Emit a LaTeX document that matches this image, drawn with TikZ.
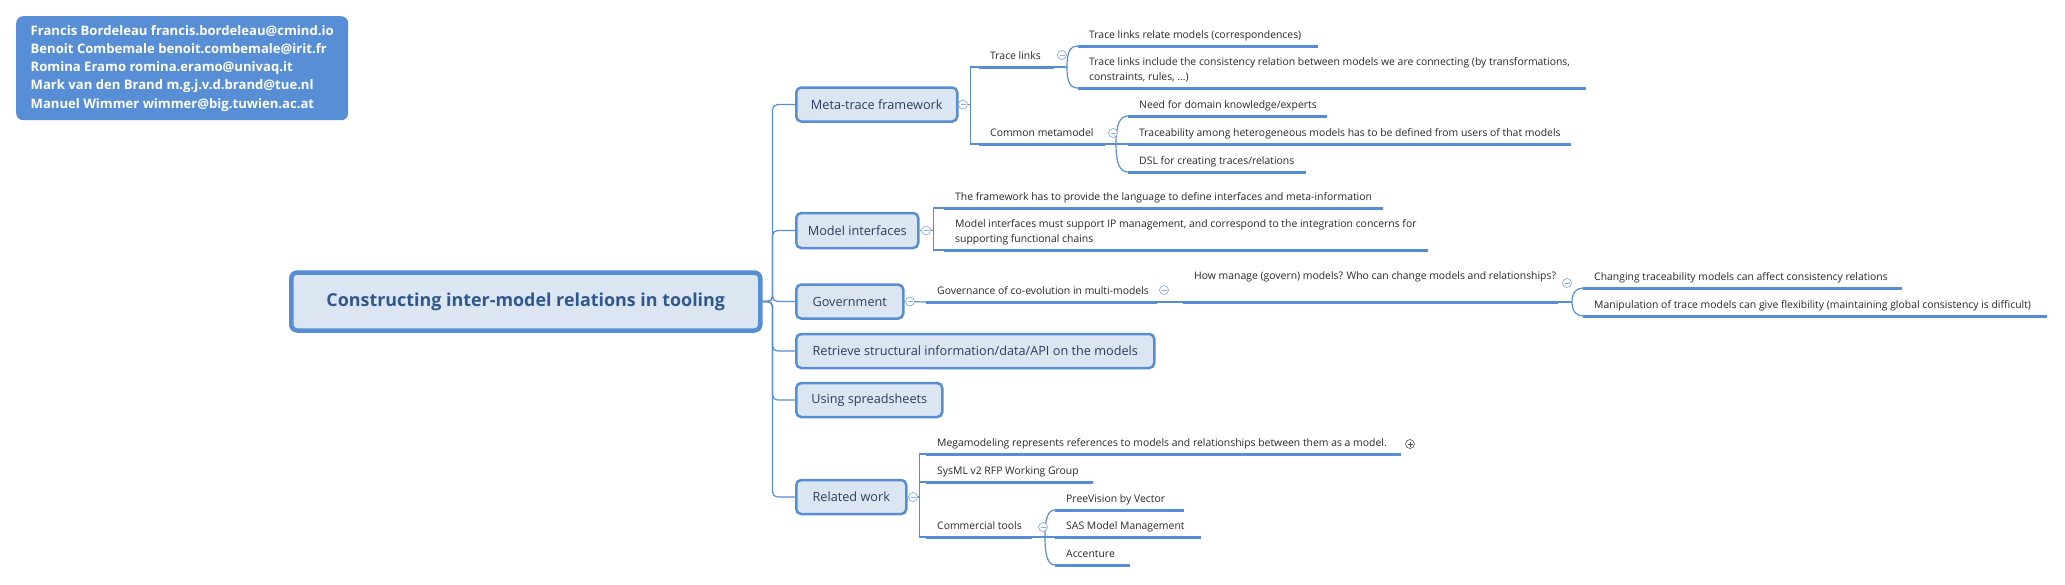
\documentclass[tikz,border=0pt]{standalone}
\usepackage{fontspec}
\setmainfont{Open Sans}
\definecolor{lineblue}{RGB}{85,142,213}
\definecolor{boxfill}{RGB}{220,230,242}
\definecolor{authfill}{RGB}{88,142,214}
\definecolor{titletext}{RGB}{47,88,140}
\definecolor{lonetext}{RGB}{45,62,92}
\definecolor{stxt}{RGB}{40,40,40}
\definecolor{circblue}{RGB}{140,172,222}
\begin{document}
\begin{tikzpicture}[x=1pt,y=-1pt,
  conn/.style={draw=lineblue, line width=1.2pt},
  uline/.style={draw=lineblue, line width=3pt},
  lone/.style={draw=lineblue, line width=2.5pt, fill=boxfill, rounded corners=5pt,
    anchor=west, minimum height=34pt, inner xsep=0pt, text=lonetext,
    font=\fontsize{12.7}{15}\selectfont},
  stext/.style={anchor=south west, inner xsep=11pt, inner ysep=3pt, align=left,
    text=stxt, font=\fontsize{10.4}{14.5}\selectfont,
    execute at begin node=\strut, execute at end node=\strut},
  collapse/.style={circle, draw=circblue, fill=white, line width=0.7pt,
    minimum size=9pt, inner sep=0pt,
    path picture={\draw[circblue, line width=0.7pt]
      ([xshift=-2.5pt]path picture bounding box.center) --
      ([xshift=2.5pt]path picture bounding box.center);}},
  expand/.style={circle, draw=black!70, fill=white, line width=0.6pt,
    minimum size=9pt, inner sep=0pt,
    path picture={\draw[black!70, line width=0.6pt]
      ([xshift=-2.5pt]path picture bounding box.center) --
      ([xshift=2.5pt]path picture bounding box.center)
      ([yshift=-2.5pt]path picture bounding box.center) --
      ([yshift=2.5pt]path picture bounding box.center);}}
]
\useasboundingbox (0,0) rectangle (2065,584);

% authors
\node[fill=authfill, rounded corners=7pt, anchor=north west, minimum width=332pt,
  minimum height=104pt, text=white, align=left,
  font=\bfseries\fontsize{13.1}{18.2}\selectfont] (authors) at (16,16)
  {Francis Bordeleau francis.bordeleau@cmind.io\\
   Benoit Combemale benoit.combemale@irit.fr\\
   Romina Eramo romina.eramo@univaq.it\\
   Mark van den Brand m.g.j.v.d.brand@tue.nl\\
   Manuel Wimmer wimmer@big.tuwien.ac.at};

% central topic
\node[draw=lineblue, line width=4.5pt, fill=boxfill, rounded corners=6pt,
  anchor=west, minimum width=469pt, minimum height=58pt, text=titletext,
  font=\bfseries\fontsize{17.9}{20}\selectfont] (center) at (289,301.5)
  {Constructing inter-model relations in tooling};

% level one topics
\node[lone, minimum width=161pt] (meta) at (795,104.5) {Meta-trace framework};
\node[lone, minimum width=122pt, minimum height=35pt] (mi) at (795,230.5) {Model interfaces};
\node[lone, minimum width=107pt] (gov) at (795,301.5) {Government};
\node[lone, minimum width=358pt] (ret) at (795,351) {Retrieve structural information/data/API on the models};
\node[lone, minimum width=146pt] (ss) at (795,400) {Using spreadsheets};
\node[lone, minimum width=110pt] (rw) at (795,497) {Related work};

\foreach \n in {meta,mi,gov,ret,ss,rw}
  \draw[conn, rounded corners=5pt] (center.east) -- ([xshift=10pt]center.east) |- (\n.west);

% sub topics
\node[stext] (tl) at (979,67) {Trace links};
\node[stext] (cm) at (979,144) {Common metamodel};
\node[stext] (tl1) at (1078,46) {Trace links relate models (correspondences)};
\node[stext] (tl2) at (1078,88) {Trace links include the consistency relation between models we are connecting (by transformations,\\constraints, rules, …)};
\node[stext] (cm1) at (1128,116) {Need for domain knowledge/experts};
\node[stext] (cm2) at (1128,144) {Traceability among heterogeneous models has to be defined from users of that models};
\node[stext] (cm3) at (1128,172) {DSL for creating traces/relations};
\node[stext] (mi1) at (944,208) {The framework has to provide the language to define interfaces and meta-information};
\node[stext] (mi2) at (944,250) {Model interfaces must support IP management, and correspond to the integration concerns for\\supporting functional chains};
\node[stext] (gv1) at (926,302) {Governance of co-evolution in multi-models};
\node[stext] (gv2) at (1183,302) {How manage (govern) models? Who can change models and relationships?\\};
\node[stext] (gv3) at (1583,288) {Changing traceability models can affect consistency relations};
\node[stext] (gv4) at (1583,316) {Manipulation of trace models can give flexibility (maintaining global consistency is difficult)};
\node[stext] (rw1) at (926,454) {Megamodeling represents references to models and relationships between them as a model.};
\node[stext] (rw2) at (926,482) {SysML v2 RFP Working Group};
\node[stext] (rw3) at (926,537) {Commercial tools};
\node[stext] (ct1) at (1055,510) {PreeVision by Vector};
\node[stext] (ct2) at (1055,537) {SAS Model Management};
\node[stext] (ct3) at (1055,565) {Accenture};

\foreach \n/\w in {tl/75, cm/126, tl1/240, tl2/508, cm1/199, cm2/443, cm3/178,
  mi1/439, mi2/484, gv1/231, gv2/375, gv3/319, gv4/464, rw1/475, rw2/167,
  rw3/106, ct1/129, ct2/146, ct3/75}
  {\draw[uline] (\n.south west) -- ++(\w,0) coordinate (\n-e);}

% connectors level one -> two
\draw[conn] (meta.east) -- ([xshift=12pt]meta.east) |- (tl.south west);
\draw[conn] ([xshift=12pt]meta.east) |- (cm.south west);
\draw[conn] (mi.east) -- ([xshift=14pt]mi.east) |- (mi1.south west);
\draw[conn] ([xshift=14pt]mi.east) |- (mi2.south west);
\draw[conn] (gov.east) -- (gv1.south west);
\draw[conn] (gv1-e) -- (gv2.south west);
\draw[conn] (rw.east) -- ([xshift=12pt]rw.east) |- (rw1.south west);
\draw[conn] ([xshift=12pt]rw.east) |- (rw2.south west);
\draw[conn] ([xshift=12pt]rw.east) |- (rw3.south west);

% braces
\draw[conn] (tl-e) -- ++(13,0) coordinate (tl-j);
\draw[conn] (tl-j) .. controls +(0,-15) and +(-8,0) .. (tl1.south west);
\draw[conn] (tl-j) .. controls +(0,15) and +(-8,0) .. (tl2.south west);
\draw[conn] (cm-e) -- ++(11,0) coordinate (cm-j) -- (cm2.south west);
\draw[conn] (cm-j) .. controls +(0,-20) and +(-8,0) .. (cm1.south west);
\draw[conn] (cm-j) .. controls +(0,20) and +(-8,0) .. (cm3.south west);
\draw[conn] (gv2-e) -- ++(14,0) coordinate (gv-j);
\draw[conn] (gv-j) .. controls +(0,-10) and +(-6,0) .. (gv3.south west);
\draw[conn] (gv-j) .. controls +(0,10) and +(-6,0) .. (gv4.south west);
\draw[conn] (rw3-e) -- ++(13,0) coordinate (ct-j) -- (ct2.south west);
\draw[conn] (ct-j) .. controls +(0,-19) and +(-7,0) .. (ct1.south west);
\draw[conn] (ct-j) .. controls +(0,19) and +(-7,0) .. (ct3.south west);

% collapse markers
\node[collapse] (c-meta) at (963,104.5) {};
\node[collapse] (c-tl) at (1062,55) {};
\node[collapse] (c-cm) at (1113,133) {};
\node[collapse] (c-mi) at (926,230.5) {};
\node[collapse] (c-gov) at (910,301.5) {};
\node[collapse] (c-gv1) at (1164,290) {};
\node[collapse] (c-gv2) at (1567,283) {};
\node[collapse] (c-rw) at (913,497) {};
\node[collapse] (c-rw3) at (1043,527) {};
\node[expand] (x-rw1) at (1410,444) {};
\end{tikzpicture}
\end{document}
